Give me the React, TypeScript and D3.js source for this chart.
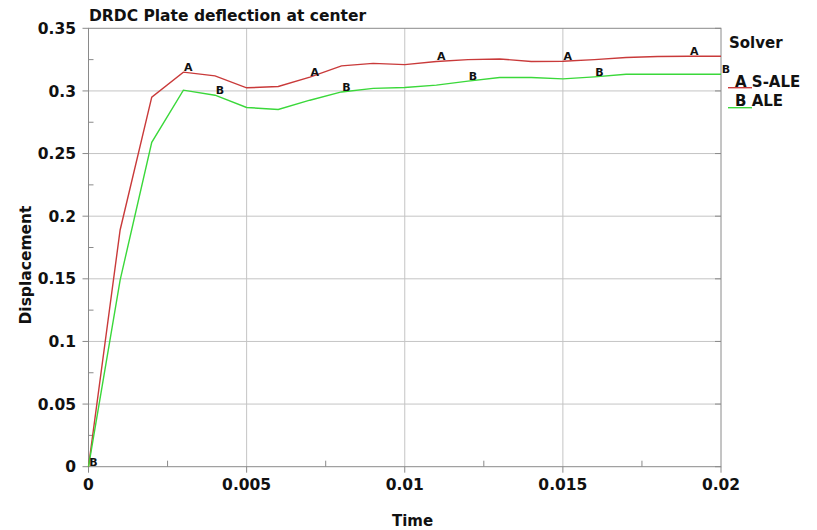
import React from "react";
import * as d3 from "d3";

const times = [0, 0.001, 0.002, 0.003, 0.004, 0.005, 0.006, 0.007, 0.008, 0.009, 0.01, 0.011, 0.012, 0.013, 0.014, 0.015, 0.016, 0.017, 0.018, 0.019, 0.02];
const sAle = [0, 0.189, 0.295, 0.315, 0.312, 0.3025, 0.3035, 0.311, 0.32, 0.322, 0.321, 0.3235, 0.325, 0.3255, 0.3235, 0.3237, 0.325, 0.3267, 0.3275, 0.3277, 0.3277];
const ale = [0, 0.149, 0.259, 0.3006, 0.2966, 0.2868, 0.2852, 0.2926, 0.2992, 0.302, 0.3027, 0.3046, 0.3078, 0.3107, 0.3107, 0.3096, 0.3112, 0.3133, 0.3133, 0.3133, 0.3133];
const xTicks = [0, 0.005, 0.01, 0.015, 0.02];
const xTickLabels = ["0", "0.005", "0.01", "0.015", "0.02"];
const yTicks = [0, 0.05, 0.1, 0.15, 0.2, 0.25, 0.3, 0.35];
const yTickLabels = ["0", "0.05", "0.1", "0.15", "0.2", "0.25", "0.3", "0.35"];
const xMinor = [0.0025, 0.0075, 0.0125, 0.0175];
const yMinor = [0.025, 0.075, 0.125, 0.175, 0.225, 0.275, 0.325];
const seriesNames = ["S-ALE", "ALE"];
const seriesLetters = ["A", "B"];
const labelIdxA = [3, 7, 11, 15, 19];
const labelIdxB = [0, 4, 8, 12, 16, 20];

const W = 817, H = 530;
const L = 88.5, R = 721, T = 28.3, B = 466.7;
const FONT = "'DejaVu Sans', sans-serif";
const RED = "#c93a3a";
const GREEN = "#3ad83a";

export default function App() {
  const x = d3.scaleLinear().domain([0, 0.02]).range([L, R]);
  const y = d3.scaleLinear().domain([0, 0.35]).range([B, T]);
  const line = d3.line<number>().x((_, i) => x(times[i])).y((d) => y(d));
  const series = [
    { vals: sAle, color: RED, letter: "A", idx: labelIdxA },
    { vals: ale, color: GREEN, letter: "B", idx: labelIdxB },
  ];
  const axisCol = "#8a8a8a";
  const gridCol = "#c4c4c4";
  return (
    <svg width={W} height={H} style={{ position: "absolute", left: 0, top: 0, background: "#fff" }} fontFamily={FONT}>
      <rect x={0} y={0} width={W} height={H} fill="#fff" />
      {/* grid */}
      {xTicks.slice(1, -1).map((t) => (
        <line key={"gx" + t} x1={x(t)} x2={x(t)} y1={T} y2={B} stroke={gridCol} strokeWidth={1} />
      ))}
      {yTicks.slice(1, -1).map((t) => (
        <line key={"gy" + t} x1={L} x2={R} y1={y(t)} y2={y(t)} stroke={gridCol} strokeWidth={1} />
      ))}
      {/* frame */}
      <rect x={L} y={T} width={R - L} height={B - T} fill="none" stroke={axisCol} strokeWidth={1} />
      {/* ticks */}
      {xTicks.map((t) => (
        <line key={"tx" + t} x1={x(t)} x2={x(t)} y1={B} y2={B + 6} stroke={axisCol} />
      ))}
      {xMinor.map((t) => (
        <line key={"mx" + t} x1={x(t)} x2={x(t)} y1={B} y2={B - 6} stroke={axisCol} />
      ))}
      {yTicks.map((t) => (
        <g key={"ty" + t}>
          <line x1={L - 6} x2={L} y1={y(t)} y2={y(t)} stroke={axisCol} />
          <line x1={R - 6} x2={R} y1={y(t)} y2={y(t)} stroke={axisCol} />
        </g>
      ))}
      {yMinor.map((t) => (
        <line key={"my" + t} x1={L} x2={L + 5} y1={y(t)} y2={y(t)} stroke={axisCol} />
      ))}
      {/* tick labels */}
      {xTicks.map((t, i) => (
        <text key={"lx" + t} x={x(t)} y={490} textAnchor="middle" fontSize={15.5} fontWeight="bold" fill="#111">
          {xTickLabels[i]}
        </text>
      ))}
      {yTicks.map((t, i) => (
        <text key={"ly" + t} x={76} y={y(t)} dy="0.36em" textAnchor="end" fontSize={15.5} fontWeight="bold" fill="#111">
          {yTickLabels[i]}
        </text>
      ))}
      {/* series */}
      {series.map((s) => (
        <g key={s.letter}>
          <path d={line(s.vals) || ""} fill="none" stroke={s.color} strokeWidth={1.4} />
          {s.idx.map((i) => (
            <text key={i} x={x(times[i]) + 5} y={y(s.vals[i]) - 5} dy="0.36em" textAnchor="middle" fontSize={11} fontWeight="bold" fill="#111">
              {s.letter}
            </text>
          ))}
        </g>
      ))}
      {/* titles */}
      <text x={89} y={21} fontSize={15.5} fontWeight="bold" fill="#111">DRDC Plate deflection at center</text>
      <text x={412.5} y={526} textAnchor="middle" fontSize={15} fontWeight="bold" fill="#111">Time</text>
      <text transform={`translate(31,265) rotate(-90)`} textAnchor="middle" fontSize={15.5} fontWeight="bold" fill="#111">Displacement</text>
      {/* legend */}
      <text x={729} y={48} fontSize={15} fontWeight="bold" fill="#111">Solver</text>
      {seriesNames.map((n, i) => (
        <g key={n}>
          <line x1={728} x2={752} y1={87.7 + i * 20} y2={87.7 + i * 20} stroke={series[i].color} strokeWidth={1.4} />
          <text x={735} y={87 + i * 19} fontSize={15} fontWeight="bold" fill="#111">
            {seriesLetters[i] + " " + n}
          </text>
        </g>
      ))}
    </svg>
  );
}
